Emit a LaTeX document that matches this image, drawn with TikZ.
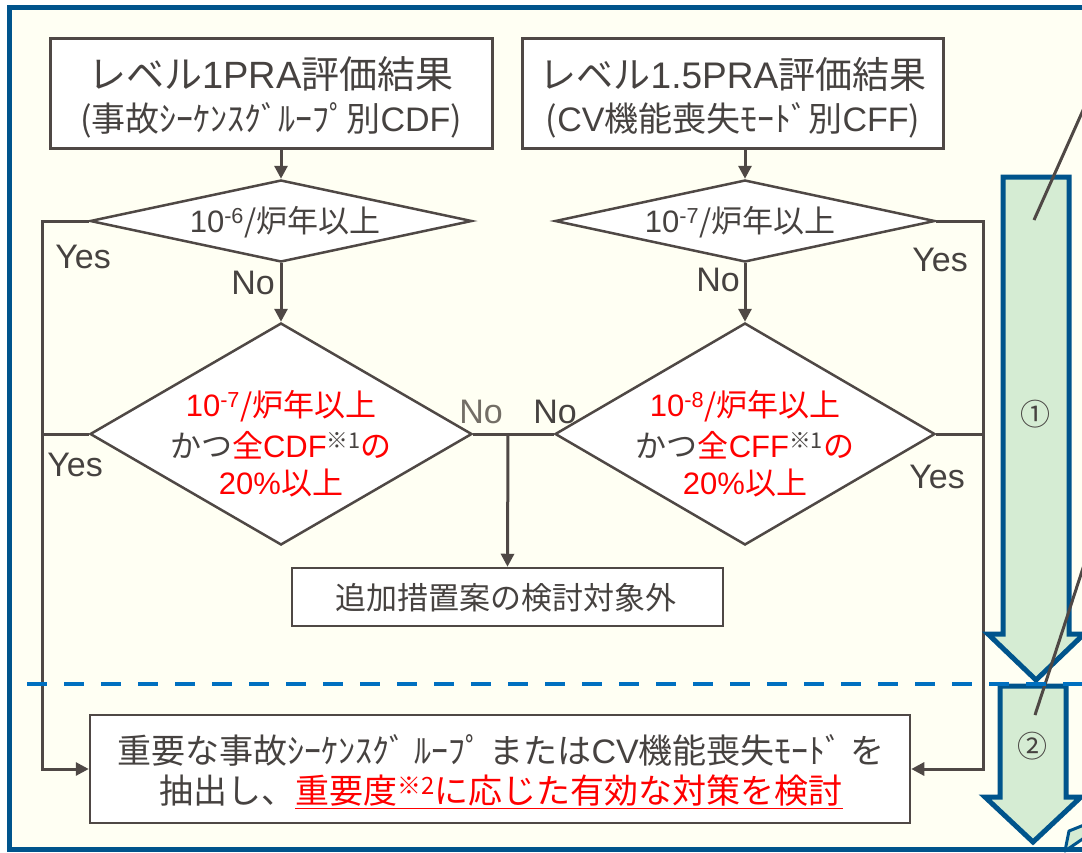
\documentclass[tikz,border=0pt]{standalone}
\usepackage{fontspec}
\setmainfont{Noto Sans CJK JP}
\newfontfamily\yesfont{Liberation Sans}
\usetikzlibrary{arrows.meta,shapes.geometric}
\definecolor{bgc}{RGB}{255,255,243}
\definecolor{frameblue}{RGB}{0,84,140}
\definecolor{lg}{RGB}{79,72,69}
\definecolor{tg}{RGB}{70,66,64}
\definecolor{arrfill}{RGB}{213,236,211}
\definecolor{dashblue}{RGB}{0,112,192}
\definecolor{nogray}{RGB}{115,110,102}
\definecolor{rd}{RGB}{255,0,0}
\newcommand{\fs}[1]{\fontsize{#1}{#1}\selectfont}
\newcommand{\lat}[1]{{\yesfont #1}}
\begin{document}
\begin{tikzpicture}[x=1pt,y=-1pt,
  boxs/.style={draw=lg, fill=white, line width=3, inner sep=0},
  dia/.style={diamond, draw=lg, fill=white, line width=2.5, inner sep=0},
  conn/.style={draw=lg, line width=3},
  arr/.style={conn, -{Triangle[length=13pt,width=13pt]}},
  txt/.style={text=tg, inner sep=0, align=center},
  lbl/.style={font=\yesfont\fs{34}, text=tg, inner sep=0},
  bigarrow/.style={draw=frameblue, fill=arrfill, line width=5, line join=miter},
  pointer/.style={draw=lg, line width=3}]
\useasboundingbox (0,0) rectangle (1082,852);
\begin{scope}
\clip (0,0) rectangle (1082,852);
\fill[white] (0,0) rectangle (1082,852);
\fill[bgc] (9.5,7.5) rectangle (1100,849.5);
\draw[frameblue, line width=5] (9.5,7.5) rectangle (1100,849.5);
\draw[frameblue, fill=arrfill, line width=3, line join=round] (1065,851) -- (1069,831) -- (1084,825) -- (1084,838) -- cycle;

% top boxes
\node[boxs, minimum width=442, minimum height=110] (b1) at (271,93) {};
\node[txt, font=\fs{38}] (b1a) at (271,74) {レベル\lat{1PRA}評価結果};
\node[txt, font=\fs{34}] (b1b) at (271,120) {(事故ｼｰｹﾝｽｸﾞﾙｰﾌﾟ別\lat{CDF})};
\node[boxs, minimum width=421, minimum height=110] (b4) at (732.5,93) {};
\node[txt, font=\fs{37}] (b4a) at (733,74) {レベル\lat{1.5PRA}評価結果};
\node[txt, font=\fs{34}] (b4b) at (733,120) {(\lat{CV}機能喪失ﾓｰﾄﾞ別\lat{CFF})};

% diamonds
\node[dia, minimum width=382, minimum height=82] (d1) at (281,221) {};
\node[txt, font=\fs{31}] (d1t) at (285,222) {\lat{10\textsuperscript{-6}}/炉年以上};
\node[dia, minimum width=380, minimum height=82] (d3) at (745,221) {};
\node[txt, font=\fs{31}] (d3t) at (740,222) {\lat{10\textsuperscript{-7}}/炉年以上};
\node[dia, minimum width=382, minimum height=222] (d2) at (281,434) {};
\node[dia, minimum width=380, minimum height=222] (d4) at (745,434) {};
\node[txt, font=\fs{31}, text=rd] (d2a) at (281,406) {\lat{10\textsuperscript{-7}}/炉年以上};
\node[txt, font=\fs{31}] (d2b) at (281,445) {かつ\textcolor{rd}{全\lat{CDF}}\textsuperscript{※1}\textcolor{rd}{の}};
\node[txt, font=\fs{31}, text=rd] (d2c) at (281,483) {\lat{20\%}以上};
\node[txt, font=\fs{31}, text=rd] (d4a) at (745,406) {\lat{10\textsuperscript{-8}}/炉年以上};
\node[txt, font=\fs{31}] (d4b) at (745,445) {かつ\textcolor{rd}{全\lat{CFF}}\textsuperscript{※1}\textcolor{rd}{の}};
\node[txt, font=\fs{31}, text=rd] (d4c) at (745,483) {\lat{20\%}以上};

% result boxes
\node[boxs, line width=2.5, minimum width=431, minimum height=58] (b2) at (507.5,597) {};
\node[txt, font=\fs{31}] (b2t) at (506,598) {追加措置案の検討対象外};
\node[boxs, line width=2.5, minimum width=820, minimum height=108] (b3) at (500,769) {};
\node[txt, font=\fs{34}] (b3a) at (501,750) {重要な事故ｼｰｹﾝｽｸﾞ ﾙｰﾌﾟ または\lat{CV}機能喪失ﾓｰﾄﾞ を};
\node[txt, font=\fs{34}] (b3b) at (501,792) {抽出し、\textcolor{rd}{\underline{重要度\textsuperscript{※2}に応じた有効な対策を検討}}};

% connectors
\coordinate (yl) at (42,769);
\coordinate (yr) at (983,769);
\coordinate (j) at (508,434);
\draw[arr] (d1.north |- b1.south) -- (d1.north);
\draw[arr] (d3.north |- b4.south) -- (d3.north);
\draw[arr] (d1.south) -- (d2.north);
\draw[arr] (d3.south) -- (d4.north);
\draw[arr] (d1.west) -| (yl) -- (b3.west);
\draw[conn] (d2.west) -- (d2.west -| yl);
\draw[arr] (d3.east) -| (yr) -- (b3.east);
\draw[conn] (d4.east) -- (d4.east -| yr);
\draw[conn] (d2.east) -- (d4.west);
\draw[arr] (j) -- (b2.north);

% labels
\node[lbl] (y1) at (83,257) {Yes};
\node[lbl] (n1) at (253,283) {No};
\node[lbl] (y2) at (75,465) {Yes};
\node[lbl, text=nogray] (n2) at (481,412) {No};
\node[lbl] (n4) at (555,412) {No};
\node[lbl] (y3) at (940,260) {Yes};
\node[lbl] (n3) at (718,280) {No};
\node[lbl] (y4) at (937,477) {Yes};

% big arrows
\draw[bigarrow] (1003,177) -- (1069,177) -- (1069,634) -- (1084,634) -- (1036,680) -- (988,634) -- (1003,634) -- cycle;
\draw[bigarrow] (1000,686) -- (1066,686) -- (1066,797) -- (1081,797) -- (1033,842) -- (985,797) -- (1000,797) -- cycle;
\node[txt, font=\fs{30}] (c1) at (1035,414) {①};
\node[txt, font=\fs{30}] (c2) at (1032,746) {②};
\coordinate (p1a) at (1084,108);
\coordinate (p1b) at (1034,220);
\coordinate (p2a) at (1084,565);
\coordinate (p2b) at (1035,715);
\draw[pointer] (p1a) -- (p1b);
\draw[pointer] (p2a) -- (p2b);

% dashed separator
\draw[dashblue, line width=4, dash pattern=on 20pt off 17pt] (27,684) -- (1082,684);
\end{scope}
\end{tikzpicture}
\end{document}
